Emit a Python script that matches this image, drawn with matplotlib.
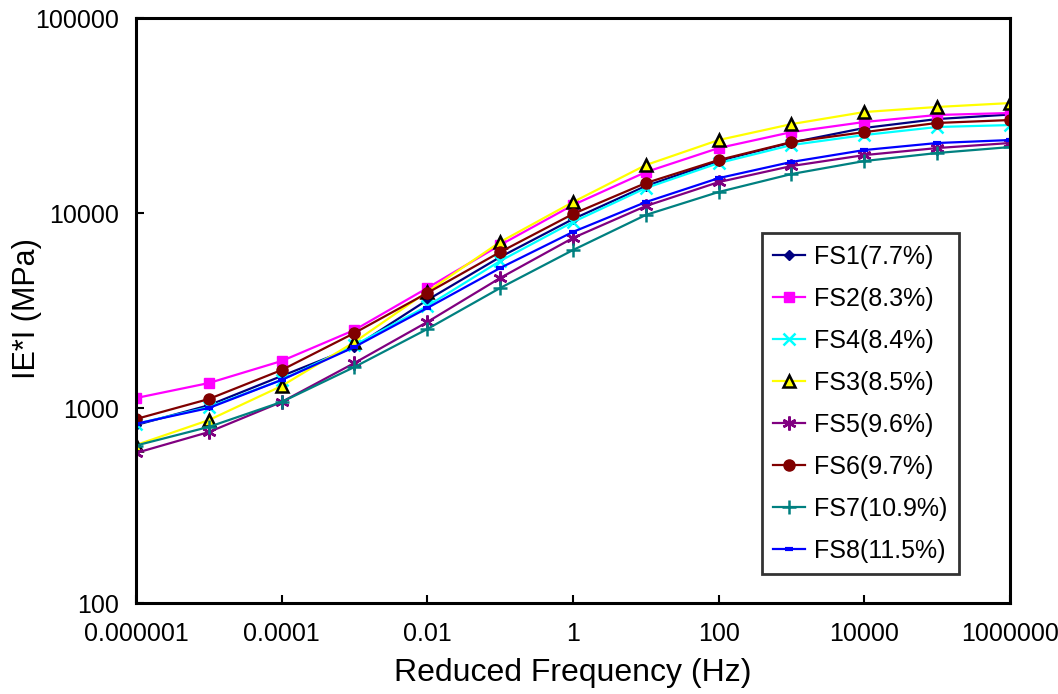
import numpy as np
import matplotlib
matplotlib.use("Agg")
import matplotlib.pyplot as plt
from matplotlib.ticker import FixedLocator, NullLocator

plt.rcParams['font.family'] = ['Liberation Sans', 'DejaVu Sans']

# reduced frequency (Hz), one point per decade
freq = [1e-6, 1e-5, 1e-4, 1e-3, 1e-2, 1e-1, 1, 10, 100, 1e3, 1e4, 1e5, 1e6]

# |E*| values (MPa)
fs1 = [818, 1033, 1459, 2056, 3580, 5946, 9310, 13750, 18500, 23000, 27300, 30340, 32000]
fs2 = [1125, 1343, 1742, 2512, 4125, 6855, 10990, 16220, 21540, 26000, 29300, 31840, 32580]
fs4 = [830, 1010, 1393, 2100, 3334, 5675, 8990, 13430, 18030, 22320, 25120, 27620, 28260]
fs3 = [646, 867, 1297, 2179, 3950, 7103, 11380, 17620, 23680, 28580, 32960, 34990, 36640]
fs5 = [588, 753, 1074, 1702, 2761, 4642, 7450, 10860, 14410, 17420, 19820, 21540, 22860]
fs6 = [878, 1112, 1566, 2425, 3890, 6310, 9886, 14250, 18700, 23120, 26000, 28970, 29990]
fs7 = [642, 800, 1074, 1623, 2541, 4125, 6457, 9775, 12820, 15850, 18480, 20320, 21790]
fs8 = [830, 1000, 1393, 2056, 3258, 5225, 8000, 11380, 15100, 18280, 21040, 22860, 23680]

labels = ['FS1(7.7%)', 'FS2(8.3%)', 'FS4(8.4%)', 'FS3(8.5%)',
          'FS5(9.6%)', 'FS6(9.7%)', 'FS7(10.9%)', 'FS8(11.5%)']

xtick_vals = [1e-6, 1e-4, 1e-2, 1, 100, 1e4, 1e6]
xtick_labels = ['0.000001', '0.0001', '0.01', '1', '100', '10000', '1000000']
ytick_vals = [100, 1000, 10000, 100000]
ytick_labels = ['100', '1000', '10000', '100000']

series = [fs1, fs2, fs4, fs3, fs5, fs6, fs7, fs8]
styles = [
    dict(color='#000080', marker='D', ms=5, mfc='#000080', mec='#000080'),
    dict(color='#FF00FF', marker='s', ms=7, mfc='#FF00FF', mec='#FF00FF'),
    dict(color='#00FFFF', marker='x', ms=8, mew=1.8),
    dict(color='#FFFF00', marker='^', ms=8, mfc='#FFFF00', mec='black', mew=1.8),
    dict(color='#800080', marker=(6, 2, 0), ms=10, mew=1.8),
    dict(color='#800000', marker='o', ms=8, mfc='#800000', mec='#800000'),
    dict(color='#008080', marker='+', ms=10, mew=1.8),
    dict(color='#0000FF', marker='_', ms=6, mew=3),
]

fig = plt.figure(figsize=(10.58, 6.94), dpi=100)
ax = fig.add_axes([0.1285, 0.1311, 0.8261, 0.8429])

for y, lab, st in zip(series, labels, styles):
    ax.plot(freq, y, label=lab, lw=1.6, **st)

ax.set_xscale('log')
ax.set_yscale('log')
ax.set_xlim(1e-6, 1e6)
ax.set_ylim(100, 100000)

ax.xaxis.set_major_locator(FixedLocator(xtick_vals))
ax.set_xticklabels(xtick_labels)
ax.xaxis.set_minor_locator(NullLocator())
ax.yaxis.set_major_locator(FixedLocator(ytick_vals))
ax.set_yticklabels(ytick_labels)
ax.yaxis.set_minor_locator(NullLocator())

ax.tick_params(axis='both', direction='in', length=6, width=1.5, labelsize=18)
ax.tick_params(axis='x', pad=14)
ax.tick_params(axis='y', pad=12)

for sp in ax.spines.values():
    sp.set_linewidth(2.2)

ax.set_xlabel("Reduced Frequency (Hz)", fontsize=23, labelpad=8)
ax.set_ylabel("IE*I (MPa)", fontsize=22)
ax.yaxis.set_label_coords(-0.108, 0.503)

leg = ax.legend(loc='upper left', bbox_to_anchor=(0.716, 0.632), borderaxespad=0,
                fontsize=18, frameon=True, fancybox=False, labelspacing=0.72,
                handlelength=1.3, handletextpad=0.35, borderpad=0.45)
leg.get_frame().set_edgecolor('black')
leg.get_frame().set_linewidth(2)

fig.savefig("out.png", dpi=100)
